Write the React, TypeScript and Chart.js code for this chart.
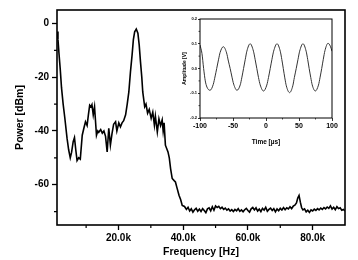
import React, { useEffect, useRef } from "react";
import { Chart, registerables } from "chart.js";

Chart.register(...registerables);

// Power spectrum: frequency in kHz, power in dBm
const freqKHz = [
  1.1, 1.3, 1.6, 2.0, 2.4, 2.9, 3.4, 4.1, 4.6, 5.1, 5.5, 6.0, 6.4, 6.8, 7.2, 7.7, 8.2, 8.8, 9.3, 9.8,
  10.3, 10.7, 11.1, 11.5, 11.8, 12.2, 12.6, 13.2, 13.6, 13.9, 14.5, 15.0, 15.5, 16.0, 16.5, 17.0, 17.5, 18.0, 18.5, 19.1,
  19.5, 20.1, 20.6, 21.1, 21.6, 22.2, 22.7, 23.2, 23.7, 24.2, 24.6, 25.0, 25.5, 26.0, 26.4, 26.8, 27.2, 27.5, 28.1, 28.5,
  29.0, 29.5, 30.1, 30.6, 31.1, 31.4, 32.0, 32.5, 33.0, 33.5, 33.8, 34.1, 34.5, 35.3, 35.7, 36.1, 36.6, 37.2, 37.6, 38.0,
  38.7, 39.2, 39.7, 40.4, 41.0, 41.5, 42.0, 42.5, 43.0, 43.5, 44.0, 44.5, 45.0, 45.5, 46.0, 46.5, 47.0, 47.5, 48.0, 48.5,
  49.0, 49.5, 50.0, 50.5, 51.0, 51.5, 52.0, 52.5, 53.0, 53.5, 54.0, 54.5, 55.0, 55.5, 56.0, 56.5, 57.0, 57.5, 58.0, 58.5,
  59.0, 59.5, 60.0, 60.5, 61.0, 61.5, 62.0, 62.5, 63.0, 63.5, 64.0, 64.5, 65.0, 65.5, 66.0, 66.5, 67.0, 67.5, 68.0, 68.5,
  69.0, 69.5, 70.0, 70.5, 71.0, 71.5, 72.0, 72.5, 73.0, 73.5, 74.0, 74.5, 75.0, 75.4, 75.8, 76.2, 76.6, 77.0, 77.5, 78.0,
  78.5, 79.0, 79.5, 80.0, 80.5, 81.0, 81.5, 82.0, 82.5, 83.0, 83.5, 84.0, 84.5, 85.0, 85.5, 86.0, 86.5, 87.0, 87.5, 88.0,
  88.5, 89.0, 89.5, 90.0,
];
const powerDbm = [
  -3, -6, -11, -17, -24, -30, -35, -42.7, -47, -50, -48, -44, -42.5, -47, -51, -50, -50.5, -41.6, -39, -36.6,
  -38, -34, -30.4, -31, -30.2, -34, -31, -41.6, -40, -40.5, -39.5, -40.8, -40, -42, -47.8, -39, -45.3, -41, -37.5, -36.6,
  -40, -37, -38.5, -37, -36.2, -34, -30, -25.5, -18, -11.8, -6, -3.1, -2.1, -3.6, -8, -14.3, -20, -25.5, -31, -30,
  -33.4, -32, -35.3, -33, -37.8, -34.5, -40.4, -35.5, -38, -35.9, -40, -37, -45.3, -47.8, -50, -54, -57.7, -58.5, -59, -60.8,
  -63.9, -65.5, -67.7, -68.1, -69.2, -68.4, -69.8, -69.0, -70.2, -69.3, -68.8, -69.9, -69.1, -70.0, -68.9, -69.6, -70.4, -69.0, -68.6, -69.7,
  -68.2, -69.5, -67.9, -68.5, -68.1, -68.9, -68.4, -69.2, -68.7, -69.5, -69.0, -69.8, -69.3, -70.0, -69.2, -69.7, -68.9, -69.9, -69.4, -70.1,
  -69.3, -68.8, -69.6, -70.2, -69.0, -68.5, -69.4, -68.6, -69.8, -69.1, -70.0, -68.8, -69.5, -68.4, -69.9, -69.2, -68.7, -69.6, -68.9, -70.1,
  -69.0, -69.7, -68.8, -69.4, -68.5, -69.3, -68.6, -69.0, -68.2, -68.9, -68.0, -67.6, -66.8, -65.0, -64.0, -66.5, -68.6, -69.4, -69.0, -70.1,
  -69.5, -70.3, -69.4, -69.8, -69.1, -69.6, -68.9, -69.4, -68.7, -69.2, -68.5, -69.0, -68.3, -68.8, -67.9, -69.1, -68.4, -69.3, -68.2, -68.9,
  -68.6, -69.5, -69.2, -69.8,
];

// Time-domain trace: time in µs, amplitude in V
const timeUs = [
  -100, -97, -94.5, -92, -89.5, -84.8, -80, -77, -74.7, -72, -69.5, -64.6, -59.7, -57, -54.3, -51.5, -49, -44, -39, -36.5,
  -34, -31.4, -29, -24, -19, -16.5, -13.9, -11.4, -8.8, -3.8, 1.2, 3.8, 6.4, 9, 11.6, 16.7, 21.6, 24, 26.2, 28.5,
  30.8, 35.7, 40.6, 43, 45.8, 48.5, 51, 56, 60.8, 63.2, 65.4, 67.8, 70, 74.7, 79.5, 82, 84.4, 86.8, 89.3, 94,
  97.5, 100,
];
const amplitudeV = [
  0.095, 0.06, 0.0, -0.05, -0.075, -0.088, -0.065, -0.03, 0.0, 0.035, 0.065, 0.088, 0.063, 0.03, 0.0, -0.035, -0.063, -0.088, -0.066, -0.035,
  0.0, 0.037, 0.07, 0.1, 0.07, 0.037, 0.0, -0.036, -0.066, -0.091, -0.067, -0.036, 0.0, 0.037, 0.07, 0.1, 0.07, 0.036, 0.0, -0.038,
  -0.07, -0.0975, -0.07, -0.036, 0.0, 0.037, 0.07, 0.1, 0.07, 0.036, 0.0, -0.036, -0.066, -0.091, -0.067, -0.035, 0.0, 0.037, 0.072, 0.102,
  0.09, 0.07,
];

const freqTicks = [20000, 40000, 60000, 80000];
const freqMinorTicks = [10000, 30000, 50000, 70000];
const powerTicks = [-60, -40, -20, 0];
const powerMinorTicks = [-70, -50, -30, -10];
const timeTicks = [-100, -50, 0, 50, 100];
const timeMinorTicks = [-75, -25, 25, 75];
const ampTicks = [-0.2, -0.1, 0, 0.1, 0.2];
const ampMinorTicks = [-0.15, -0.05, 0.05, 0.15];

const FONT = "'Liberation Sans', Arial, sans-serif";

// Draws the box around the plot area and the short minor tick marks.
function framePlugin(id: string, lineWidth: number, minorLen: number, minorWidth: number, xMinor: number[], yMinor: number[]) {
  return {
    id,
    afterDraw(chart: any) {
      const { ctx, chartArea: a, scales } = chart;
      ctx.save();
      ctx.strokeStyle = "#000";
      ctx.lineWidth = minorWidth;
      ctx.beginPath();
      for (const v of xMinor) {
        const px = scales.x.getPixelForValue(v);
        ctx.moveTo(px, a.bottom);
        ctx.lineTo(px, a.bottom + minorLen);
      }
      for (const v of yMinor) {
        const py = scales.y.getPixelForValue(v);
        ctx.moveTo(a.left, py);
        ctx.lineTo(a.left - minorLen, py);
      }
      ctx.stroke();
      ctx.lineWidth = lineWidth;
      ctx.strokeRect(a.left, a.top, a.right - a.left, a.bottom - a.top);
      ctx.restore();
    },
  };
}

export default function App() {
  const mainRef = useRef<HTMLCanvasElement>(null);
  const insetRef = useRef<HTMLCanvasElement>(null);

  useEffect(() => {
    const main = new Chart(mainRef.current as HTMLCanvasElement, {
      type: "line",
      data: {
        datasets: [
          {
            data: freqKHz.map((f, i) => ({ x: f * 1000, y: powerDbm[i] })),
            borderColor: "#000",
            borderWidth: 1.6,
            pointRadius: 0,
            tension: 0,
          },
        ],
      },
      options: {
        animation: false,
        responsive: false,
        maintainAspectRatio: false,
        events: [],
        layout: { padding: { top: 10, right: 13, left: 14, bottom: 0 } },
        plugins: { legend: { display: false }, tooltip: { enabled: false } },
        scales: {
          x: {
            type: "linear",
            min: 1000,
            max: 90000,
            afterBuildTicks: (s: any) => {
              s.ticks = freqTicks.map((v) => ({ value: v }));
            },
            afterFit: (s: any) => {
              s.height = 35;
            },
            grid: { drawOnChartArea: false, drawTicks: true, tickLength: 5, tickColor: "#000", tickWidth: 1.3 },
            border: { display: false },
            ticks: {
              color: "#000",
              maxRotation: 0,
              padding: 2,
              font: { family: FONT, weight: "bold", size: 10 },
              callback: (v: any) => (Number(v) / 1000).toFixed(1) + "k",
            },
            title: {
              display: true,
              text: "Frequency [Hz]",
              color: "#000",
              font: { family: FONT, weight: "bold", size: 10.5 },
              padding: { top: 0, bottom: 2 },
            },
          },
          y: {
            type: "linear",
            min: -75,
            max: 5,
            afterBuildTicks: (s: any) => {
              s.ticks = powerTicks.map((v) => ({ value: v }));
            },
            afterFit: (s: any) => {
              s.width = 43;
            },
            grid: { drawOnChartArea: false, drawTicks: true, tickLength: 5, tickColor: "#000", tickWidth: 1.3 },
            border: { display: false },
            ticks: {
              color: "#000",
              padding: 3,
              font: { family: FONT, weight: "bold", size: 10 },
            },
            title: {
              display: true,
              text: "Power [dBm]",
              color: "#000",
              font: { family: FONT, weight: "bold", size: 10.5 },
              padding: { top: 0, bottom: 0 },
            },
          },
        },
      },
      plugins: [framePlugin("mainFrame", 1.6, 3, 1.2, freqMinorTicks, powerMinorTicks)],
    } as any);

    const inset = new Chart(insetRef.current as HTMLCanvasElement, {
      type: "line",
      data: {
        datasets: [
          {
            data: timeUs.map((t, i) => ({ x: t, y: amplitudeV[i] })),
            borderColor: "#333",
            borderWidth: 1,
            pointRadius: 0,
            cubicInterpolationMode: "monotone",
          },
        ],
      },
      options: {
        animation: false,
        responsive: false,
        maintainAspectRatio: false,
        events: [],
        layout: { padding: { top: 7, right: 10, left: 0, bottom: 0 } },
        plugins: { legend: { display: false }, tooltip: { enabled: false } },
        scales: {
          x: {
            type: "linear",
            min: -100,
            max: 100,
            afterBuildTicks: (s: any) => {
              s.ticks = timeTicks.map((v) => ({ value: v }));
            },
            afterFit: (s: any) => {
              s.height = 30;
            },
            grid: { drawOnChartArea: false, drawTicks: true, tickLength: 3, tickColor: "#000", tickWidth: 0.8 },
            border: { display: false },
            ticks: {
              color: "#000",
              maxRotation: 0,
              padding: 1,
              font: { family: FONT, weight: "bold", size: 7 },
            },
            title: {
              display: true,
              text: "Time [µs]",
              color: "#000",
              font: { family: FONT, weight: "bold", size: 6.5 },
              padding: { top: 2, bottom: 2 },
            },
          },
          y: {
            type: "linear",
            min: -0.2,
            max: 0.2,
            afterBuildTicks: (s: any) => {
              s.ticks = ampTicks.map((v) => ({ value: v }));
            },
            afterFit: (s: any) => {
              s.width = 18;
            },
            grid: { drawOnChartArea: false, drawTicks: true, tickLength: 2, tickColor: "#000", tickWidth: 0.8 },
            border: { display: false },
            ticks: {
              color: "#000",
              padding: 1,
              font: { family: FONT, weight: "bold", size: 4 },
              callback: (v: any) => Number(v).toFixed(1),
            },
            title: {
              display: true,
              text: "Amplitude [V]",
              color: "#000",
              font: { family: FONT, weight: "bold", size: 5 },
              padding: { top: 0, bottom: 0 },
            },
          },
        },
      },
      plugins: [framePlugin("insetFrame", 1, 1.5, 0.7, timeMinorTicks, ampMinorTicks)],
    } as any);

    return () => {
      main.destroy();
      inset.destroy();
    };
  }, []);

  return (
    <div style={{ position: "fixed", left: 0, top: 0, width: 358, height: 260, background: "#fff" }}>
      <canvas
        ref={mainRef}
        width={358}
        height={260}
        style={{ position: "absolute", left: 0, top: 0, width: 358, height: 260 }}
      />
      <canvas
        ref={insetRef}
        width={160}
        height={136}
        style={{ position: "absolute", left: 182, top: 12, width: 160, height: 136 }}
      />
    </div>
  );
}
